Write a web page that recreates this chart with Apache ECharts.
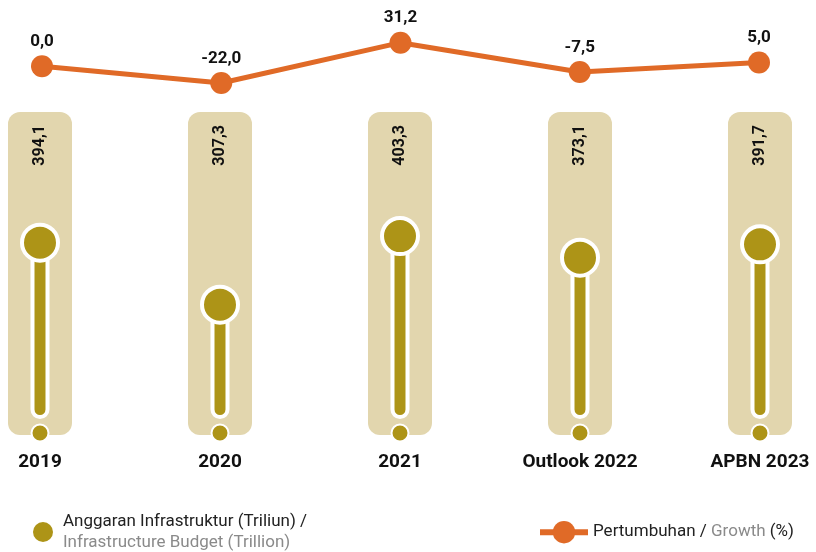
<!DOCTYPE html>
<html>
<head>
<meta charset="utf-8">
<script src="https://cdn.jsdelivr.net/npm/echarts@6/dist/echarts.min.js"></script>
<style>
  html, body { margin: 0; padding: 0; background: #fff; }
  #chart { width: 816px; height: 552px; }
</style>
</head>
<body>
<div id="chart"></div>
<script>
// data
const categories = ['2019', '2020', '2021', 'Outlook 2022', 'APBN 2023'];
const budget = [394.1, 307.3, 403.3, 373.1, 391.7];
const growth = [0.0, -22.0, 31.2, -7.5, 5.0];

const budgetName = 'Anggaran Infrastruktur (Triliun) / Infrastructure Budget (Trillion)';
const growthName = 'Pertumbuhan / Growth (%)';

const OLIVE = '#ad9417';
const BEIGE = '#e2d6ae';
const ORANGE = '#e06a27';
const BUDGET_MIN = 150;

const fmt = (v) => v.toFixed(1).replace('.', ',');

const chart = echarts.init(document.getElementById('chart'));

const hiddenX = (i) => ({
  type: 'category',
  gridIndex: i,
  data: categories,
  boundaryGap: false,
  axisLine: { show: false },
  axisTick: { show: false },
  axisLabel: { show: false },
  splitLine: { show: false },
});

const option = {
  animation: false,
  textStyle: { fontFamily: 'Roboto' },
  grid: [
    { left: 40, right: 56, top: 112, bottom: 117 },
    { left: 40, right: 56, top: 167, bottom: 135 },
    { left: 42, right: 57, top: 36, bottom: 463 },
  ],
  xAxis: [
    {
      ...hiddenX(0),
      axisLabel: {
        show: true,
        margin: 18,
        color: '#111',
        fontSize: 19,
        fontWeight: 'bold',
        fontFamily: 'Roboto',
      },
    },
    hiddenX(1),
    hiddenX(2),
  ],
  yAxis: [
    { type: 'value', gridIndex: 0, min: 0, max: 1, show: false },
    { type: 'value', gridIndex: 1, min: BUDGET_MIN, max: 500, show: false },
    { type: 'value', gridIndex: 2, min: -30, max: 40, show: false },
  ],
  legend: [
    {
      data: [budgetName],
      left: 28,
      top: 508,
      itemWidth: 20,
      itemHeight: 20,
      itemStyle: { borderWidth: 0 },
      formatter: () => '{a|Anggaran Infrastruktur (Triliun) /}\n{b|Infrastructure Budget (Trillion)}',
      textStyle: {
        padding: [0, 0, 0, 5],
        rich: {
          a: { fontSize: 17, color: '#222', lineHeight: 21, fontFamily: 'Roboto' },
          b: { fontSize: 17, color: '#8a8a8a', lineHeight: 21, fontFamily: 'Roboto' },
        },
      },
    },
    {
      data: [growthName],
      left: 532,
      top: 516,
      itemWidth: 48,
      itemHeight: 28,
      itemGap: 5,
      lineStyle: { width: 6 },
      formatter: () => '{a|Pertumbuhan / }{b|Growth}{a| (%)}',
      textStyle: {
        padding: [0, 0, 0, 0],
        rich: {
          a: { fontSize: 17, color: '#222', fontFamily: 'Roboto' },
          b: { fontSize: 17, color: '#8a8a8a', fontFamily: 'Roboto' },
        },
      },
    },
  ],
  series: [
    {
      type: 'bar',
      xAxisIndex: 0,
      yAxisIndex: 0,
      data: budget.map(() => 1),
      barWidth: 64,
      silent: true,
      z: 1,
      itemStyle: { color: BEIGE, borderRadius: 12 },
      label: {
        show: true,
        position: 'insideTop',
        distance: 13,
        rotate: 90,
        align: 'right',
        verticalAlign: 'middle',
        color: '#111',
        fontSize: 16,
        fontWeight: 'bold',
        fontFamily: 'Roboto',
        formatter: (p) => fmt(budget[p.dataIndex]),
      },
    },
    {
      type: 'bar',
      xAxisIndex: 1,
      yAxisIndex: 1,
      data: budget,
      barWidth: 19,
      z: 2,
      itemStyle: { color: OLIVE, borderColor: '#fff', borderWidth: 4, borderRadius: 9 },
    },
    {
      type: 'scatter',
      xAxisIndex: 1,
      yAxisIndex: 1,
      data: budget.map(() => BUDGET_MIN),
      symbol: 'circle',
      symbolSize: 17,
      symbolOffset: [0, 16],
      z: 3,
      itemStyle: { color: OLIVE, borderColor: '#fff', borderWidth: 2, opacity: 1 },
    },
    {
      name: budgetName,
      type: 'scatter',
      xAxisIndex: 1,
      yAxisIndex: 1,
      data: budget,
      symbol: 'circle',
      symbolSize: 36,
      z: 4,
      itemStyle: { color: OLIVE, borderColor: '#fff', borderWidth: 4, opacity: 1 },
    },
    {
      name: growthName,
      type: 'line',
      xAxisIndex: 2,
      yAxisIndex: 2,
      data: growth,
      symbol: 'circle',
      symbolSize: 22,
      z: 5,
      lineStyle: { color: ORANGE, width: 5 },
      itemStyle: { color: ORANGE },
      label: {
        show: true,
        position: 'top',
        distance: 5,
        color: '#111',
        fontSize: 17,
        fontWeight: 'bold',
        fontFamily: 'Roboto',
        formatter: (p) => fmt(p.value),
      },
    },
  ],
};

chart.setOption(option);
window.addEventListener('resize', () => chart.resize());
</script>
</body>
</html>
